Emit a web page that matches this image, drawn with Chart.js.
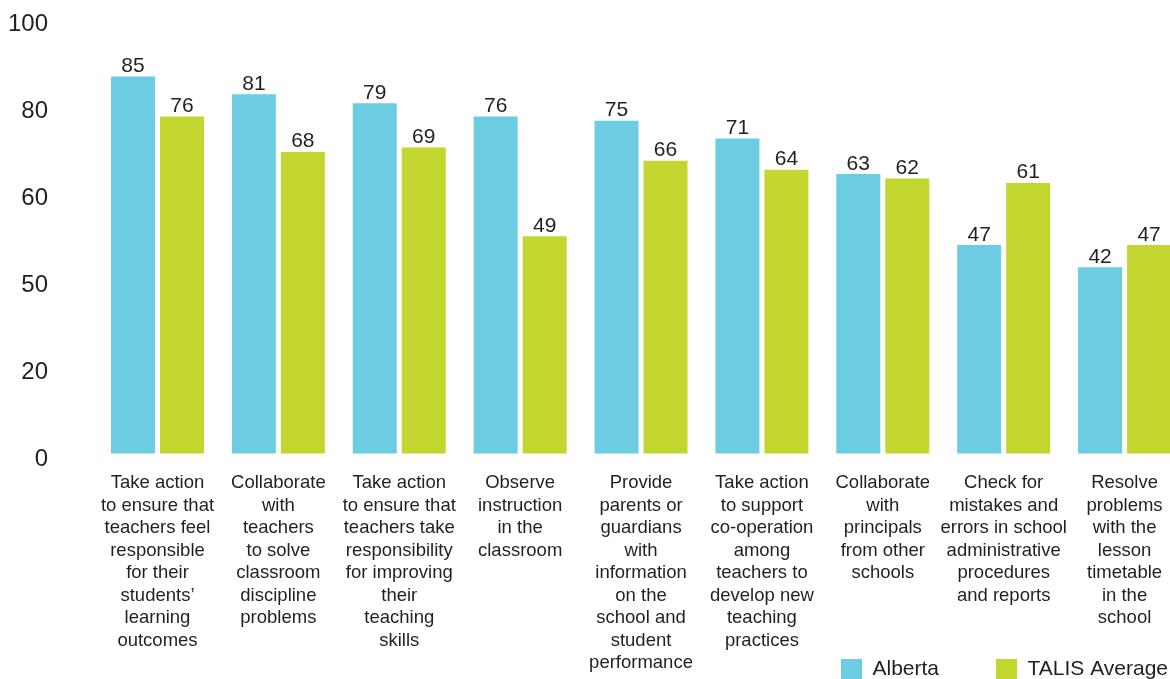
<!DOCTYPE html>
<html>
<head>
<meta charset="utf-8">
<title>Principal leadership activities</title>
<script src="https://cdn.jsdelivr.net/npm/chart.js@4.4.1/dist/chart.umd.min.js"></script>
<style>
  html, body { margin: 0; padding: 0; background: #ffffff; overflow: hidden; width: 1170px; height: 679px; }
  canvas { display: block; }
</style>
</head>
<body>
<canvas id="chart" width="1225" height="765"></canvas>
<script>
// Category labels, one array of lines per activity
const categories = [
  ["Take action", "to ensure that", "teachers feel", "responsible", "for their", "students’", "learning", "outcomes"],
  ["Collaborate", "with", "teachers", "to solve", "classroom", "discipline", "problems"],
  ["Take action", "to ensure that", "teachers take", "responsibility", "for improving", "their", "teaching", "skills"],
  ["Observe", "instruction", "in the", "classroom"],
  ["Provide", "parents or", "guardians", "with", "information", "on the", "school and", "student", "performance"],
  ["Take action", "to support", "co-operation", "among", "teachers to", "develop new", "teaching", "practices"],
  ["Collaborate", "with", "principals", "from other", "schools"],
  ["Check for", "mistakes and", "errors in school", "administrative", "procedures", "and reports"],
  ["Resolve", "problems", "with the", "lesson", "timetable", "in the", "school"]
];

const albertaValues = [85, 81, 79, 76, 75, 71, 63, 47, 42];
const talisValues = [76, 68, 69, 49, 66, 64, 62, 61, 47];
const seriesNames = ["Alberta", "TALIS Average"];

const yTickValues = [0, 20, 40, 60, 80, 100];
const yTickLabels = ["0", "20", "50", "60", "80", "100"];

const FONT = '"Liberation Sans", Arial, Helvetica, sans-serif';
const TEXT = '#231f20';
const CYAN = '#6ccde2';
const LIME = '#c2d62f';

// Writes each bar's value just above it
const valueLabels = {
  id: 'valueLabels',
  afterDatasetsDraw(chart) {
    const ctx = chart.ctx;
    ctx.save();
    ctx.font = '21px ' + FONT;
    ctx.fillStyle = TEXT;
    ctx.textAlign = 'center';
    ctx.textBaseline = 'alphabetic';
    chart.data.datasets.forEach((ds, di) => {
      chart.getDatasetMeta(di).data.forEach((bar, i) => {
        ctx.fillText(String(ds.data[i]), bar.x, bar.y - 4.5);
      });
    });
    ctx.restore();
  }
};

// Raises the legend so it sits beside the tallest category labels
const legendLift = {
  id: 'legendLift',
  afterLayout(chart) {
    const lg = chart.legend;
    if (!lg) return;
    const lift = 75;
    lg.top -= lift;
    lg.bottom -= lift;
  }
};

new Chart(document.getElementById('chart'), {
  type: 'bar',
  data: {
    labels: categories,
    datasets: [
      { label: seriesNames[0], data: albertaValues, backgroundColor: CYAN, borderWidth: 0,
        categoryPercentage: 0.8106, barPercentage: 0.898 },
      { label: seriesNames[1], data: talisValues, backgroundColor: LIME, borderWidth: 0,
        categoryPercentage: 0.8106, barPercentage: 0.898 }
    ]
  },
  options: {
    responsive: false,
    animation: false,
    layout: { padding: { top: 10, left: 0, right: 0, bottom: 0 } },
    plugins: {
      tooltip: { enabled: false },
      legend: {
        position: 'bottom',
        align: 'end',
        labels: {
          boxWidth: 21,
          boxHeight: 21,
          padding: 57,
          color: TEXT,
          font: { size: 21, family: FONT }
        }
      }
    },
    scales: {
      x: {
        grid: { display: false, drawTicks: false },
        border: { display: false },
        ticks: {
          color: TEXT,
          font: { size: 18.5, family: FONT, lineHeight: 1.215 },
          padding: 10,
          minRotation: 0,
          maxRotation: 0,
          autoSkip: false
        },
        afterFit(scale) { scale.height = 215; }
      },
      // value axis the bars are drawn on
      y: {
        position: 'right',
        min: -1.92,
        max: 100,
        grid: { display: false, drawTicks: false },
        border: { display: false },
        ticks: { display: false },
        afterFit(scale) { scale.width = 40; }
      },
      // axis carrying the printed tick labels
      yTicks: {
        position: 'left',
        min: -0.66,
        max: 103.41,
        grid: { display: false, drawTicks: true, tickLength: 49 },
        border: { display: false },
        ticks: {
          color: TEXT,
          font: { size: 24, family: FONT, lineHeight: 0.8 },
          padding: 0,
          autoSkip: false,
          callback: (value, index) => yTickLabels[index]
        },
        afterBuildTicks(scale) { scale.ticks = yTickValues.map(v => ({ value: v })); },
        afterFit(scale) { scale.width = 97.05; }
      }
    }
  },
  plugins: [valueLabels, legendLift]
});
</script>
</body>
</html>
